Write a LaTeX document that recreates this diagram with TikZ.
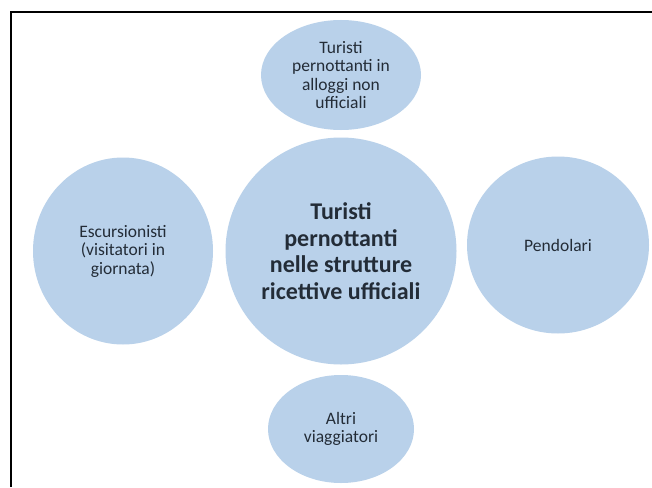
\documentclass[tikz,border=0pt]{standalone}
\usepackage{fontspec}
\setmainfont{Carlito}
\usetikzlibrary{shapes.geometric}
\definecolor{bolla}{HTML}{B9D1EA}
\definecolor{testo}{HTML}{232C37}
\tikzset{cerchio/.style={ellipse, fill=bolla, draw=none, inner sep=0pt, align=center, text=testo, font=\fontsize{17.5}{18.5}\selectfont}, grande/.style={cerchio, font=\bfseries\fontsize{24}{26.5}\selectfont}, cornice/.style={line width=1.3pt, color=black}}

\begin{document}
\begin{tikzpicture}[x=1pt,y=-1pt]
\useasboundingbox (0,0) rectangle (652,487);
\fill[white] (0,0) rectangle (652,487);
\coordinate (angolo) at (11,12); \coordinate (destra) at (652,12); \coordinate (fondo) at (11,487);
\draw[cornice] (fondo)--(angolo)--(destra);
\node[grande, minimum width=231pt, minimum height=227pt] (centro) at (341,251) {Turisti\\pernottanti\\nelle strutture\\ricettive ufficiali};
\node[cerchio, minimum width=160pt, minimum height=110pt] (alto) at (341,75) {Turisti\\pernottanti in\\alloggi non\\ufficiali};
\node[cerchio, minimum width=180pt, minimum height=187pt] (sinistra) at (123,251) {Escursionisti\\(visitatori in\\giornata)};
\node[cerchio, minimum width=182pt, minimum height=177pt] (destro) at (558,245) {Pendolari};
\node[cerchio, minimum width=146pt, minimum height=108pt] (basso) at (341,429) {Altri\\viaggiatori};
\end{tikzpicture}
\end{document}
